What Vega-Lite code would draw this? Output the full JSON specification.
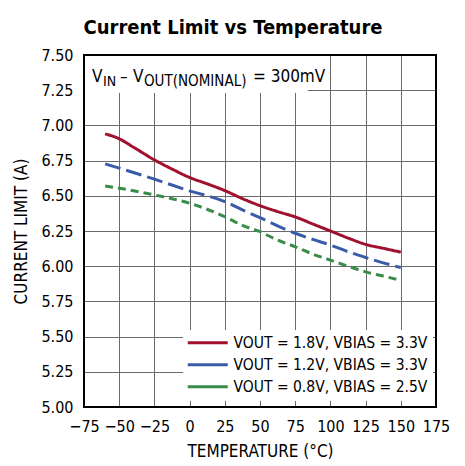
{
  "$schema": "https://vega.github.io/schema/vega-lite/v6.json",
  "width": 352,
  "height": 352,
  "autosize": {"type": "none"},
  "padding": {"left": 84, "top": 55, "right": 29, "bottom": 59},
  "background": "white",
  "title": {
    "text": "Current Limit vs Temperature",
    "font": "DejaVu Sans Condensed",
    "fontSize": 20,
    "fontWeight": "bold",
    "color": "black",
    "anchor": "middle",
    "frame": "group",
    "dx": -27,
    "offset": 9
  },
  "data": {
    "values": [
      {"series": "VOUT = 1.8V, VBIAS = 3.3V", "t": -60, "i": 6.94},
      {"series": "VOUT = 1.8V, VBIAS = 3.3V", "t": -50, "i": 6.905},
      {"series": "VOUT = 1.8V, VBIAS = 3.3V", "t": -40, "i": 6.846},
      {"series": "VOUT = 1.8V, VBIAS = 3.3V", "t": -25, "i": 6.755},
      {"series": "VOUT = 1.8V, VBIAS = 3.3V", "t": -12.5, "i": 6.69},
      {"series": "VOUT = 1.8V, VBIAS = 3.3V", "t": 0, "i": 6.63},
      {"series": "VOUT = 1.8V, VBIAS = 3.3V", "t": 12.5, "i": 6.585},
      {"series": "VOUT = 1.8V, VBIAS = 3.3V", "t": 25, "i": 6.537},
      {"series": "VOUT = 1.8V, VBIAS = 3.3V", "t": 37.5, "i": 6.48},
      {"series": "VOUT = 1.8V, VBIAS = 3.3V", "t": 50, "i": 6.43},
      {"series": "VOUT = 1.8V, VBIAS = 3.3V", "t": 62.5, "i": 6.388},
      {"series": "VOUT = 1.8V, VBIAS = 3.3V", "t": 75, "i": 6.35},
      {"series": "VOUT = 1.8V, VBIAS = 3.3V", "t": 87.5, "i": 6.30},
      {"series": "VOUT = 1.8V, VBIAS = 3.3V", "t": 100, "i": 6.25},
      {"series": "VOUT = 1.8V, VBIAS = 3.3V", "t": 112.5, "i": 6.20},
      {"series": "VOUT = 1.8V, VBIAS = 3.3V", "t": 125, "i": 6.155},
      {"series": "VOUT = 1.8V, VBIAS = 3.3V", "t": 137.5, "i": 6.127},
      {"series": "VOUT = 1.8V, VBIAS = 3.3V", "t": 150, "i": 6.10},
      {"series": "VOUT = 1.2V, VBIAS = 3.3V", "t": -60, "i": 6.727},
      {"series": "VOUT = 1.2V, VBIAS = 3.3V", "t": -50, "i": 6.697},
      {"series": "VOUT = 1.2V, VBIAS = 3.3V", "t": -25, "i": 6.618},
      {"series": "VOUT = 1.2V, VBIAS = 3.3V", "t": 0, "i": 6.535},
      {"series": "VOUT = 1.2V, VBIAS = 3.3V", "t": 25, "i": 6.459},
      {"series": "VOUT = 1.2V, VBIAS = 3.3V", "t": 37.5, "i": 6.40},
      {"series": "VOUT = 1.2V, VBIAS = 3.3V", "t": 50, "i": 6.345},
      {"series": "VOUT = 1.2V, VBIAS = 3.3V", "t": 62.5, "i": 6.286},
      {"series": "VOUT = 1.2V, VBIAS = 3.3V", "t": 75, "i": 6.234},
      {"series": "VOUT = 1.2V, VBIAS = 3.3V", "t": 87.5, "i": 6.19},
      {"series": "VOUT = 1.2V, VBIAS = 3.3V", "t": 100, "i": 6.15},
      {"series": "VOUT = 1.2V, VBIAS = 3.3V", "t": 112.5, "i": 6.103},
      {"series": "VOUT = 1.2V, VBIAS = 3.3V", "t": 125, "i": 6.062},
      {"series": "VOUT = 1.2V, VBIAS = 3.3V", "t": 137.5, "i": 6.024},
      {"series": "VOUT = 1.2V, VBIAS = 3.3V", "t": 150, "i": 5.99},
      {"series": "VOUT = 0.8V, VBIAS = 2.5V", "t": -60, "i": 6.57},
      {"series": "VOUT = 0.8V, VBIAS = 2.5V", "t": -50, "i": 6.554},
      {"series": "VOUT = 0.8V, VBIAS = 2.5V", "t": -25, "i": 6.506},
      {"series": "VOUT = 0.8V, VBIAS = 2.5V", "t": 0, "i": 6.447},
      {"series": "VOUT = 0.8V, VBIAS = 2.5V", "t": 25, "i": 6.352},
      {"series": "VOUT = 0.8V, VBIAS = 2.5V", "t": 37.5, "i": 6.29},
      {"series": "VOUT = 0.8V, VBIAS = 2.5V", "t": 50, "i": 6.245},
      {"series": "VOUT = 0.8V, VBIAS = 2.5V", "t": 62.5, "i": 6.186},
      {"series": "VOUT = 0.8V, VBIAS = 2.5V", "t": 75, "i": 6.138},
      {"series": "VOUT = 0.8V, VBIAS = 2.5V", "t": 87.5, "i": 6.086},
      {"series": "VOUT = 0.8V, VBIAS = 2.5V", "t": 100, "i": 6.043},
      {"series": "VOUT = 0.8V, VBIAS = 2.5V", "t": 112.5, "i": 6.0},
      {"series": "VOUT = 0.8V, VBIAS = 2.5V", "t": 125, "i": 5.96},
      {"series": "VOUT = 0.8V, VBIAS = 2.5V", "t": 137.5, "i": 5.93},
      {"series": "VOUT = 0.8V, VBIAS = 2.5V", "t": 150, "i": 5.90}
    ]
  },
  "encoding": {
    "x": {
      "type": "quantitative",
      "scale": {"domain": [-75, 175], "nice": false, "zero": false},
      "axis": {
        "title": "TEMPERATURE (°C)",
        "values": [-75, -50, -25, 0, 25, 50, 75, 100, 125, 150, 175],
        "labelPadding": 11,
        "titlePadding": 9,
        "labelOverlap": false,
        "labelFlush": false
      }
    },
    "y": {
      "type": "quantitative",
      "scale": {"domain": [5, 7.5], "nice": false, "zero": false},
      "axis": {
        "title": "CURRENT LIMIT (A)",
        "values": [5, 5.25, 5.5, 5.75, 6, 6.25, 6.5, 6.75, 7, 7.25, 7.5],
        "format": ".2f",
        "labelPadding": 11,
        "titlePadding": 10,
        "labelOverlap": false,
        "labelFlush": false
      }
    }
  },
  "layer": [
    {
      "mark": {"type": "line", "strokeWidth": 3, "interpolate": "monotone"},
      "encoding": {
        "x": {"field": "t", "type": "quantitative"},
        "y": {"field": "i", "type": "quantitative"},
        "color": {
          "field": "series",
          "type": "nominal",
          "sort": ["VOUT = 1.8V, VBIAS = 3.3V", "VOUT = 1.2V, VBIAS = 3.3V", "VOUT = 0.8V, VBIAS = 2.5V"],
          "scale": {"range": ["#a0102f", "#3a5ba8", "#3a8c4a"]},
          "legend": {
            "title": null,
            "orient": "none",
            "legendX": 99,
            "legendY": 275,
            "fillColor": "white",
            "padding": 5,
            "symbolType": "M-4,0H4",
            "symbolSize": 100,
            "symbolStrokeWidth": 3,
            "symbolOffset": 12,
            "labelOffset": 18,
            "labelFont": "DejaVu Sans Condensed",
            "labelFontSize": 15.5,
            "labelColor": "black",
            "labelLimit": 400,
            "rowPadding": 5
          }
        },
        "strokeDash": {
          "field": "series",
          "type": "nominal",
          "sort": ["VOUT = 1.8V, VBIAS = 3.3V", "VOUT = 1.2V, VBIAS = 3.3V", "VOUT = 0.8V, VBIAS = 2.5V"],
          "scale": {"range": [[1, 0], [16, 6], [8, 5]]},
          "legend": null
        }
      }
    },
    {
      "data": {"values": [{}]},
      "mark": {"type": "rect", "fill": "white"},
      "encoding": {
        "x": {"datum": -75},
        "x2": {"datum": 84},
        "y": {"datum": 7.5},
        "y2": {"datum": 7.23}
      }
    },
    {
      "data": {"values": [{}]},
      "mark": {"type": "text", "align": "left", "baseline": "alphabetic", "fontSize": 17, "dx": 8, "dy": 27, "color": "black"},
      "encoding": {"x": {"datum": -75}, "y": {"datum": 7.5}, "text": {"value": "V"}}
    },
    {
      "data": {"values": [{}]},
      "mark": {"type": "text", "align": "left", "baseline": "alphabetic", "fontSize": 14, "dx": 19, "dy": 31, "color": "black"},
      "encoding": {"x": {"datum": -75}, "y": {"datum": 7.5}, "text": {"value": "IN"}}
    },
    {
      "data": {"values": [{}]},
      "mark": {"type": "text", "align": "left", "baseline": "alphabetic", "fontSize": 17, "dx": 36, "dy": 27, "color": "black"},
      "encoding": {"x": {"datum": -75}, "y": {"datum": 7.5}, "text": {"value": "–"}}
    },
    {
      "data": {"values": [{}]},
      "mark": {"type": "text", "align": "left", "baseline": "alphabetic", "fontSize": 17, "dx": 49, "dy": 27, "color": "black"},
      "encoding": {"x": {"datum": -75}, "y": {"datum": 7.5}, "text": {"value": "V"}}
    },
    {
      "data": {"values": [{}]},
      "mark": {"type": "text", "align": "left", "baseline": "alphabetic", "fontSize": 15, "dx": 60, "dy": 31, "color": "black"},
      "encoding": {"x": {"datum": -75}, "y": {"datum": 7.5}, "text": {"value": "OUT(NOMINAL)"}}
    },
    {
      "data": {"values": [{}]},
      "mark": {"type": "text", "align": "left", "baseline": "alphabetic", "fontSize": 17, "dx": 169, "dy": 27, "color": "black"},
      "encoding": {"x": {"datum": -75}, "y": {"datum": 7.5}, "text": {"value": "= 300mV"}}
    },
    {
      "data": {"values": [{}]},
      "mark": {"type": "rect", "filled": false, "stroke": "black", "strokeWidth": 2},
      "encoding": {
        "x": {"datum": -75},
        "x2": {"datum": 175},
        "y": {"datum": 5},
        "y2": {"datum": 7.5}
      }
    }
  ],
  "config": {
    "font": "DejaVu Sans Condensed",
    "view": {"stroke": null},
    "text": {"font": "DejaVu Sans Condensed"},
    "axis": {
      "domain": false,
      "ticks": false,
      "grid": true,
      "gridColor": "#6a6a6a",
      "gridWidth": 1,
      "gridOpacity": 1,
      "labelFont": "DejaVu Sans Condensed",
      "labelFontSize": 16,
      "labelColor": "black",
      "titleFont": "DejaVu Sans Condensed",
      "titleFontSize": 17,
      "titleFontWeight": "normal",
      "titleColor": "black"
    }
  }
}
